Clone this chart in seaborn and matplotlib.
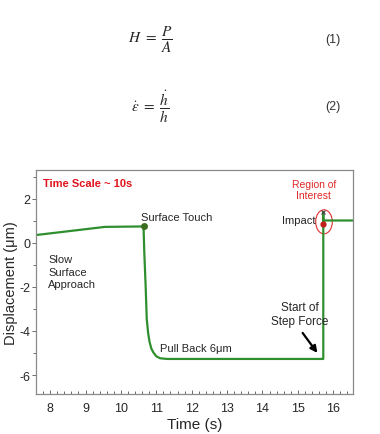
import matplotlib
matplotlib.use('Agg')
import matplotlib.pyplot as plt
import seaborn as sns
import pandas as pd
from matplotlib.patches import Ellipse
from matplotlib.ticker import MultipleLocator

# data

time_s = [7.6, 9.55, 10.64, 10.66, 10.70, 10.73, 10.77, 10.81, 10.86, 10.92, 11.0, 11.11,
          11.3, 15.72, 15.72, 15.72, 16.56]
disp_um = [0.35, 0.72, 0.74, -0.4, -2.0, -3.45, -4.1, -4.5, -4.8, -4.98, -5.15, -5.24,
           -5.27, -5.27, 1.39, 1.01, 1.01]
touch_pt = (10.64, 0.74)
impact_pt = (15.72, 0.83)
impact_top = (15.72, 1.39)
x_ticks = [8, 9, 10, 11, 12, 13, 14, 15, 16]
y_ticks = [-6, -4, -2, 0, 2]

df = pd.DataFrame({'time': time_s, 'disp': disp_um})

sns.set_style('white')
plt.rcParams['font.family'] = ['Liberation Sans', 'DejaVu Sans']
plt.rcParams['mathtext.fontset'] = 'stix'
plt.rcParams['axes.unicode_minus'] = False

fig = plt.figure(figsize=(3.8, 4.35), dpi=100)

# equations on top
fig.text(150 / 380, 1 - 40 / 435, r'$H\ =\ \dfrac{P}{A}$', ha='center', va='center', fontsize=11)
fig.text(333 / 380, 1 - 40 / 435, '(1)', ha='center', va='center', fontsize=9, color='#333333')
fig.text(150 / 380, 1 - 107 / 435, r'$\dot{\epsilon}\ =\ \dfrac{\dot{h}}{h}$', ha='center', va='center', fontsize=11)
fig.text(333 / 380, 1 - 107 / 435, '(2)', ha='center', va='center', fontsize=9, color='#333333')

ax = fig.add_axes([36 / 380, 1 - 395 / 435, (353 - 36) / 380, (395 - 171) / 435])

green = '#2f8f2f'
sns.lineplot(data=df, x='time', y='disp', sort=False, estimator=None, color=green, linewidth=1.6, ax=ax)
ax.plot(*touch_pt, 'o', color='#3a6e1e', markersize=4)
ax.plot(*impact_pt, 'o', color='#c0201a', markersize=3.5)
ax.plot(*impact_top, marker='x', color='#444444', markersize=3, mew=0.8)
ax.add_patch(Ellipse((15.74, 0.95), 0.47, 1.09, fill=False, edgecolor='#e03030', linewidth=0.8))

ax.set_xlim(7.6, 16.56)
ax.set_ylim(-6.86, 3.3)
ax.set_xticks(x_ticks)
ax.set_yticks(y_ticks)
ax.xaxis.set_minor_locator(MultipleLocator(0.2))
ax.yaxis.set_minor_locator(MultipleLocator(1))
ax.tick_params(bottom=True, left=True, which='both')
ax.tick_params(axis='x', which='major', direction='in', length=3, width=0.6, color='#555555', labelsize=9, pad=6)
ax.tick_params(axis='x', which='minor', direction='in', length=2, width=0.6, color='#555555')
ax.tick_params(axis='y', which='major', direction='out', length=3, width=0.6, color='#555555', labelsize=9, pad=1)
ax.tick_params(axis='y', which='minor', direction='out', length=2, width=0.6, color='#555555')
for s in ax.spines.values():
    s.set_color('#8a8a8a')
    s.set_linewidth(0.9)
ax.set_xlabel('Time (s)', fontsize=11, labelpad=2)
ax.set_ylabel('Displacement (μm)', fontsize=10.5, labelpad=1)

# annotations
ax.text(7.8, 2.73, 'Time Scale ~ 10s', color='#e0141e', fontsize=8, fontweight='bold', va='center')
ax.text(10.58, 1.17, 'Surface Touch', fontsize=8, va='center')
ax.text(7.95, -0.5, 'Slow\nSurface\nApproach', fontsize=8, va='top', linespacing=1.35)
ax.text(11.1, -4.78, 'Pull Back 6μm', fontsize=8, va='center')
ax.text(15.45, 2.42, 'Region of\nInterest', color='#e02828', fontsize=7.5, ha='center', va='center', linespacing=1.2)
ax.text(15.5, 1.02, 'Impact', fontsize=8, ha='right', va='center')
ax.text(15.06, -3.22, 'Start of\nStep Force', fontsize=8.5, ha='center', va='center', linespacing=1.25)
ax.annotate('', xy=(15.6, -5.1), xytext=(15.09, -3.99),
            arrowprops=dict(arrowstyle='-|>', color='black', lw=1.6, mutation_scale=10))

fig.savefig('out.png', dpi=100)
